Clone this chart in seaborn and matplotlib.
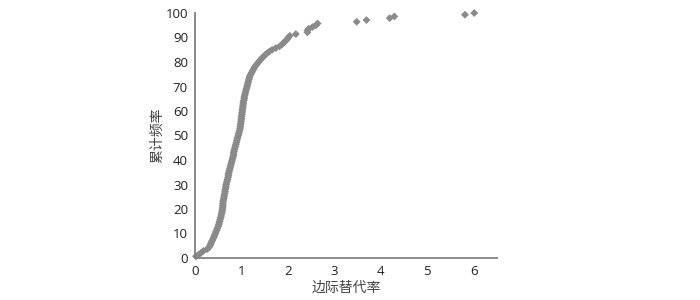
import matplotlib
matplotlib.use("Agg")
import matplotlib.pyplot as plt
import seaborn as sns
import pandas as pd

# marginal substitution rate (sorted)
rate = [
    0.02, 0.08, 0.13, 0.18, 0.26, 0.30, 0.32, 0.34, 0.35, 0.37,
    0.39, 0.41, 0.42, 0.44, 0.45, 0.47, 0.48, 0.50, 0.51, 0.52,
    0.53, 0.54, 0.55, 0.56, 0.57, 0.58, 0.585, 0.59, 0.595, 0.60,
    0.60, 0.605, 0.61, 0.62, 0.625, 0.63, 0.64, 0.645, 0.65, 0.66,
    0.665, 0.67, 0.68, 0.69, 0.70, 0.71, 0.72, 0.72, 0.73, 0.74,
    0.75, 0.76, 0.77, 0.78, 0.79, 0.80, 0.81, 0.82, 0.83, 0.83,
    0.84, 0.85, 0.86, 0.87, 0.88, 0.89, 0.90, 0.91, 0.92, 0.93,
    0.94, 0.95, 0.96, 0.97, 0.975, 0.98, 0.985, 0.99, 0.995, 1.00,
    1.00, 1.01, 1.01, 1.02, 1.02, 1.03, 1.03, 1.04, 1.04, 1.05,
    1.06, 1.06, 1.07, 1.08, 1.09, 1.10, 1.11, 1.12, 1.13, 1.14,
    1.15, 1.16, 1.17, 1.18, 1.20, 1.22, 1.24, 1.26, 1.28, 1.31,
    1.34, 1.37, 1.40, 1.43, 1.47, 1.51, 1.55, 1.60, 1.66, 1.74,
    1.82, 1.87, 1.91, 1.95, 1.98, 2.01, 2.04, 2.17, 2.42, 2.42,
    2.45, 2.53, 2.60, 2.64, 3.48, 3.69, 4.19, 4.29, 5.81, 6.01,
]

# cumulative frequency (%)
cum_freq = [
    0.7, 1.4, 2.1, 2.9, 3.6, 4.3, 5.0, 5.7, 6.4, 7.1,
    7.9, 8.6, 9.3, 10.0, 10.7, 11.4, 12.1, 12.9, 13.6, 14.3,
    15.0, 15.7, 16.4, 17.1, 17.9, 18.6, 19.3, 20.0, 20.7, 21.4,
    22.1, 22.9, 23.6, 24.3, 25.0, 25.7, 26.4, 27.1, 27.9, 28.6,
    29.3, 30.0, 30.7, 31.4, 32.1, 32.9, 33.6, 34.3, 35.0, 35.7,
    36.4, 37.1, 37.9, 38.6, 39.3, 40.0, 40.7, 41.4, 42.1, 42.9,
    43.6, 44.3, 45.0, 45.7, 46.4, 47.1, 47.9, 48.6, 49.3, 50.0,
    50.7, 51.4, 52.1, 52.9, 53.6, 54.3, 55.0, 55.7, 56.4, 57.1,
    57.9, 58.6, 59.3, 60.0, 60.7, 61.4, 62.1, 62.9, 63.6, 64.3,
    65.0, 65.7, 66.4, 67.1, 67.9, 68.6, 69.3, 70.0, 70.7, 71.4,
    72.1, 72.9, 73.6, 74.3, 75.0, 75.7, 76.4, 77.1, 77.9, 78.6,
    79.3, 80.0, 80.7, 81.4, 82.1, 82.9, 83.6, 84.3, 85.0, 85.7,
    86.4, 87.1, 87.9, 88.6, 89.3, 90.0, 90.7, 91.4, 92.1, 92.9,
    93.6, 94.3, 95.0, 95.7, 96.4, 97.1, 97.9, 98.6, 99.3, 100.0,
]

x_ticks = [0, 1, 2, 3, 4, 5, 6]
y_ticks = [0, 10, 20, 30, 40, 50, 60, 70, 80, 90, 100]
x_label = "边际替代率"
y_label = "累计频率"

sns.set_style("white")
plt.rcParams['font.family'] = ['Noto Sans CJK SC', 'DejaVu Sans']

df = pd.DataFrame({"rate": rate, "freq": cum_freq})

fig = plt.figure(figsize=(7, 3), dpi=100)
ax = fig.add_axes([195 / 700, 42 / 300, 302 / 700, 245 / 300])

sns.scatterplot(data=df, x="rate", y="freq", marker="D", s=16,
                color="#8a8a8a", edgecolor="none", ax=ax, clip_on=False)

ax.set_xlim(0, 6.5)
ax.set_ylim(0, 100)
ax.set_xticks(x_ticks)
ax.set_yticks(y_ticks)
ax.set_xticklabels([str(t) for t in x_ticks], fontsize=9.5,
                   family=['Open Sans', 'DejaVu Sans'])
ax.set_yticklabels([str(t) for t in y_ticks], fontsize=9.5,
                   family=['Open Sans', 'DejaVu Sans'])
ax.tick_params(axis='both', length=0, pad=5, colors="#222222")
ax.set_xlabel(x_label, fontsize=10, color="#444444", labelpad=2)
ax.set_ylabel(y_label, fontsize=10, color="#444444", labelpad=1)

for side in ["top", "right"]:
    ax.spines[side].set_visible(False)
for side in ["left", "bottom"]:
    ax.spines[side].set_color("#808080")
    ax.spines[side].set_linewidth(1.3)

fig.savefig("out.png", dpi=100)
